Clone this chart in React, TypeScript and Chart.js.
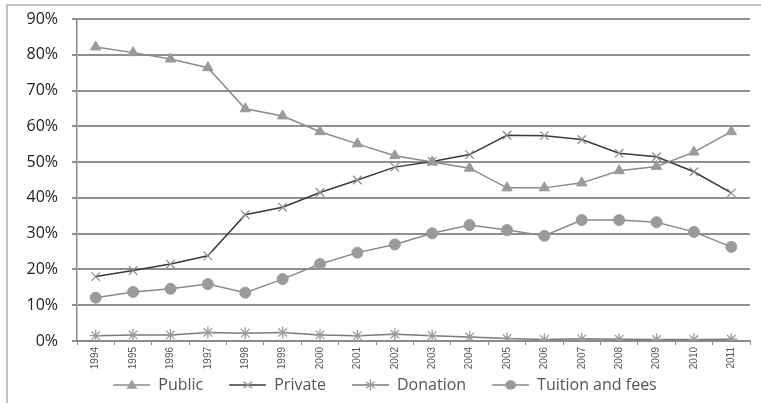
import React, { useEffect, useRef } from "react";
import { Chart, registerables } from "chart.js";

Chart.register(...registerables);

const years = ["1994","1995","1996","1997","1998","1999","2000","2001","2002","2003","2004","2005","2006","2007","2008","2009","2010","2011"];
const publicShare = [82.2, 80.6, 78.8, 76.4, 64.9, 62.9, 58.5, 55.1, 51.8, 50.0, 48.3, 42.8, 42.8, 44.2, 47.6, 48.8, 52.8, 58.5];
const privateShare = [18.0, 19.7, 21.5, 23.8, 35.3, 37.4, 41.5, 45.0, 48.6, 50.2, 52.1, 57.5, 57.4, 56.3, 52.5, 51.5, 47.3, 41.4];
const donationShare = [1.5, 1.7, 1.7, 2.4, 2.2, 2.4, 1.7, 1.5, 1.9, 1.5, 1.1, 0.7, 0.4, 0.6, 0.5, 0.4, 0.4, 0.5];
const tuitionShare = [12.1, 13.7, 14.6, 15.9, 13.5, 17.3, 21.5, 24.7, 27.0, 30.1, 32.4, 31.0, 29.4, 33.8, 33.8, 33.2, 30.5, 26.3];
const yTicks = [0, 10, 20, 30, 40, 50, 60, 70, 80, 90];

const GAP = 20;

function makeLegendImg(kind: string, lineColor: string, pointColor: string): HTMLCanvasElement {
  const c = document.createElement("canvas");
  const sw = 37, h = 14;
  const w = GAP + sw;
  c.width = w; c.height = h;
  const ctx = c.getContext("2d")!;
  ctx.strokeStyle = lineColor;
  ctx.lineWidth = 1.5;
  ctx.beginPath();
  ctx.moveTo(GAP, h / 2);
  ctx.lineTo(w, h / 2);
  ctx.stroke();
  const cx = GAP + sw / 2, cy = h / 2, r = 5.5;
  ctx.fillStyle = pointColor;
  ctx.strokeStyle = pointColor;
  ctx.lineWidth = 1.3;
  if (kind === "triangle") {
    ctx.beginPath();
    ctx.moveTo(cx, cy - r);
    ctx.lineTo(cx + r, cy + r * 0.7);
    ctx.lineTo(cx - r, cy + r * 0.7);
    ctx.closePath();
    ctx.fill();
  } else if (kind === "crossRot") {
    ctx.beginPath();
    ctx.moveTo(cx - r * 0.8, cy - r * 0.6);
    ctx.lineTo(cx + r * 0.8, cy + r * 0.6);
    ctx.moveTo(cx + r * 0.8, cy - r * 0.6);
    ctx.lineTo(cx - r * 0.8, cy + r * 0.6);
    ctx.stroke();
  } else if (kind === "star") {
    ctx.beginPath();
    ctx.moveTo(cx - r * 0.8, cy - r * 0.6);
    ctx.lineTo(cx + r * 0.8, cy + r * 0.6);
    ctx.moveTo(cx + r * 0.8, cy - r * 0.6);
    ctx.lineTo(cx - r * 0.8, cy + r * 0.6);
    ctx.moveTo(cx, cy - r);
    ctx.lineTo(cx, cy + r);
    ctx.stroke();
  } else {
    ctx.beginPath();
    ctx.ellipse(cx, cy, r, r * 0.85, 0, 0, Math.PI * 2);
    ctx.fill();
  }
  return c;
}

const framePlugin = {
  id: "frame",
  beforeDraw(chart: any) {
    const ctx = chart.ctx;
    ctx.save();
    ctx.strokeStyle = "#c4c4c4";
    ctx.lineWidth = 2;
    ctx.beginPath();
    ctx.moveTo(7, 403);
    ctx.lineTo(7, 5);
    ctx.lineTo(761, 5);
    ctx.stroke();
    ctx.restore();
  },
};

export default function App() {
  const ref = useRef<HTMLCanvasElement | null>(null);
  useEffect(() => {
    document.body.style.margin = "0";
    const specs = [
      { label: "Public", data: publicShare, kind: "triangle", line: "#8a8a8a", point: "#9a9a9a" },
      { label: "Private", data: privateShare, kind: "crossRot", line: "#3a3a3a", point: "#8e8e8e" },
      { label: "Donation", data: donationShare, kind: "star", line: "#7a7a7a", point: "#9a9a9a" },
      { label: "Tuition and fees", data: tuitionShare, kind: "circle", line: "#8a8a8a", point: "#9a9a9a" },
    ];
    const imgs = specs.map((s) => makeLegendImg(s.kind, s.line, s.point));
    const chart = new Chart(ref.current!, {
      type: "line",
      data: {
        labels: years,
        datasets: specs.map((s) => ({
          label: s.label,
          data: s.data,
          borderColor: s.line,
          borderWidth: 1.5,
          backgroundColor: s.point,
          pointStyle: s.kind as any,
          pointRadius: s.kind === "circle" ? 5.5 : 6,
          pointBorderColor: s.point,
          pointBackgroundColor: s.point,
          pointBorderWidth: s.kind === "crossRot" || s.kind === "star" ? 1.3 : 1,
          tension: 0,
          fill: false,
        })),
      },
      options: {
        responsive: false,
        animation: false,
        layout: { padding: { left: 0, right: 11, top: 19, bottom: 0 } },
        plugins: {
          tooltip: { enabled: false },
          legend: {
            display: true,
            position: "bottom",
            labels: {
              usePointStyle: true,
              pointStyleWidth: GAP + 37,
              padding: 6,
              color: "#555",
              font: { family: "'Open Sans', sans-serif", size: 16 },
              generateLabels: (chart: any) =>
                chart.data.datasets.map((ds: any, i: number) => ({
                  text: ds.label,
                  pointStyle: imgs[i],
                  fillStyle: "transparent",
                  strokeStyle: "transparent",
                  lineWidth: 0,
                  datasetIndex: i,
                  fontColor: "#555",
                })),
            },
          },
        },
        scales: {
          x: {
            type: "category",
            offset: true,
            afterFit: (s: any) => { s.height = 30; },
            border: { display: true, color: "#8a8a8a", width: 1.5 },
            grid: { drawOnChartArea: false, drawTicks: true, tickLength: 4, color: "#8a8a8a", offset: true },
            ticks: {
              autoSkip: false,
              maxRotation: 90,
              minRotation: 90,
              padding: 2,
              color: "#555",
              font: { family: "'Liberation Sans Narrow', sans-serif", size: 10 },
            },
          },
          y: {
            min: 0,
            max: 90,
            afterFit: (s: any) => { s.width = 77; s.paddingTop = 0; s.paddingBottom = 0; },
            afterBuildTicks: (s: any) => { s.ticks = yTicks.map((v) => ({ value: v })); },
            border: { display: true, color: "#8a8a8a", width: 1.5 },
            grid: { color: "#8f8f8f", lineWidth: 2, tickLength: 5, drawTicks: true },
            ticks: {
              padding: 14,
              color: "#222",
              font: { family: "'Open Sans', sans-serif", size: 16 },
              callback: (v: any) => v + "%",
            },
          },
        },
      },
      plugins: [framePlugin],
    });
    return () => chart.destroy();
  }, []);
  return (
    <div style={{ position: "absolute", left: 0, top: 0, width: 761, height: 403, background: "#fff" }}>
      <canvas ref={ref} width={761} height={403} style={{ width: 761, height: 403 }} />
    </div>
  );
}
